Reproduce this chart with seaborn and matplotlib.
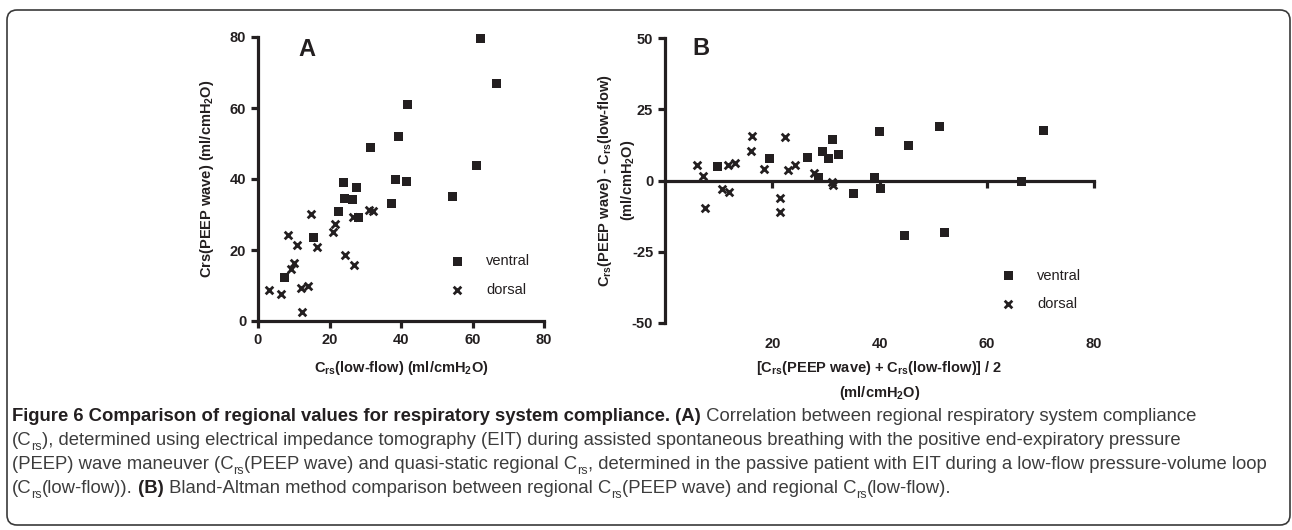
import numpy as np
import pandas as pd
import seaborn as sns
import matplotlib.pyplot as plt
from matplotlib import font_manager as fm
from matplotlib.patches import FancyBboxPatch
from matplotlib.transforms import IdentityTransform

# Painel A: Crs(low-flow) x Crs(PEEP wave)
ventral_low_flow = [62.1, 66.8, 41.8, 39.4, 31.6, 61.2, 38.6, 41.6, 23.9,
                    27.6, 24.3, 26.4, 54.5, 37.4, 22.6, 28.2, 15.6, 7.5]
ventral_peep = [79.5, 67.0, 61.0, 52.0, 48.9, 43.7, 39.9, 39.2, 38.9,
                37.5, 34.6, 34.3, 35.2, 33.2, 30.9, 29.2, 23.4, 12.3]
dorsal_low_flow = [14.9, 31.1, 32.2, 26.6, 21.5, 20.9, 8.5, 10.9, 16.6,
                   24.4, 26.8, 10.0, 9.3, 3.1, 6.3, 12.1, 14.0, 12.2]
dorsal_peep = [30.1, 31.2, 31.0, 29.3, 27.4, 25.2, 24.3, 21.3, 20.8,
               18.5, 15.9, 16.2, 14.6, 8.6, 7.7, 9.2, 9.9, 2.5]

# Painel B: Bland-Altman (media x diferenca)
ventral_mean = [9.8, 19.4, 26.6, 29.3, 30.4, 31.2, 32.4, 28.7, 35.2,
                39.1, 40.0, 40.2, 45.4, 44.6, 51.2, 52.1, 66.4, 70.5]
ventral_diff = [5.0, 7.7, 8.2, 10.2, 7.7, 14.4, 9.2, 0.9, -4.4,
                1.2, 17.2, -2.7, 12.3, -19.3, 18.9, -18.1, -0.3, 17.6]
dorsal_mean = [5.9, 7.1, 7.4, 10.6, 11.9, 11.8, 13.0, 16.1, 16.3,
               18.5, 21.4, 21.4, 22.4, 23.0, 24.3, 27.8, 31.2, 31.4]
dorsal_diff = [5.4, 1.5, -9.7, -2.9, -4.1, 5.3, 6.0, 10.4, 15.6,
               4.0, -6.0, -11.1, 15.1, 3.7, 5.4, 2.5, -0.6, -1.5]

ticks_a = [0, 20, 40, 60, 80]
ticks_bx = [20, 40, 60, 80]
ticks_by = [-50, -25, 0, 25, 50]

df_a = pd.DataFrame({
    'x': ventral_low_flow + dorsal_low_flow,
    'y': ventral_peep + dorsal_peep,
    'regiao': ['ventral'] * len(ventral_low_flow) + ['dorsal'] * len(dorsal_low_flow),
})
df_b = pd.DataFrame({
    'x': ventral_mean + dorsal_mean,
    'y': ventral_diff + dorsal_diff,
    'regiao': ['ventral'] * len(ventral_mean) + ['dorsal'] * len(dorsal_mean),
})

sns.set_style('ticks')
plt.rcParams['font.family'] = ['Liberation Sans', 'DejaVu Sans']
plt.rcParams['mathtext.fontset'] = 'custom'
plt.rcParams['mathtext.rm'] = 'Liberation Sans'
plt.rcParams['mathtext.bf'] = 'Liberation Sans:bold'
plt.rcParams['mathtext.it'] = 'Liberation Sans:italic'
plt.rcParams['axes.unicode_minus'] = False

ink = '#231f20'
W, H = 1292, 530
fig = plt.figure(figsize=(W / 100, H / 100), dpi=100)

ax_a = fig.add_axes([258 / W, 1 - 321 / H, 286 / W, 284 / H])
ax_b = fig.add_axes([665 / W, 1 - 323 / H, 429 / W, 285 / H])


def desenha_pontos(ax, df):
    sub = df[df.regiao == 'ventral']
    sns.scatterplot(x=sub.x, y=sub.y, marker='s', s=42, color=ink,
                    edgecolor='none', label='ventral', ax=ax, clip_on=False,
                    zorder=5)
    sub = df[df.regiao == 'dorsal']
    sns.scatterplot(x=sub.x, y=sub.y, marker='x', s=30, color=ink,
                    linewidth=2, label='dorsal', ax=ax, clip_on=False,
                    zorder=5)


def estilo_eixos(ax):
    sns.despine(ax=ax)
    for lado in ['left', 'bottom']:
        ax.spines[lado].set_linewidth(2.3)
        ax.spines[lado].set_color(ink)
    ax.tick_params(width=2.3, length=5, color=ink, labelcolor=ink,
                   labelsize=10.5)
    for lab in ax.get_xticklabels() + ax.get_yticklabels():
        lab.set_fontweight('bold')


# ---- Painel A
desenha_pontos(ax_a, df_a)
ax_a.set_xlim(0, 80)
ax_a.set_ylim(0, 80)
ax_a.set_xticks(ticks_a)
ax_a.set_yticks(ticks_a)
estilo_eixos(ax_a)
ax_a.set_xlabel(r'C$_{\mathbf{rs}}$(low-flow) (ml/cmH$_{\mathbf{2}}$O)',
                fontsize=10.5, fontweight='bold', color=ink)
ax_a.set_ylabel(r'Crs(PEEP wave) (ml/cmH$_{\mathbf{2}}$O)',
                fontsize=10.5, fontweight='bold', color=ink)
ax_a.xaxis.set_label_coords(0.5, -0.135)
ax_a.yaxis.set_label_coords(-0.147, 0.5)
ax_a.text(0.14, 0.955, 'A', transform=ax_a.transAxes, fontsize=17,
          fontweight='bold', color=ink, va='center', ha='left')
ax_a.legend(frameon=False, loc='center left', bbox_to_anchor=(0.671, 0.16),
            borderaxespad=0, borderpad=0, handlelength=1, handletextpad=1.5,
            labelspacing=1.0, fontsize=10.5, labelcolor=ink)

# ---- Painel B
desenha_pontos(ax_b, df_b)
ax_b.set_xlim(0, 80)
ax_b.set_ylim(-50, 50)
ax_b.set_xticks(ticks_bx)
ax_b.set_yticks(ticks_by)
estilo_eixos(ax_b)
ax_b.spines['bottom'].set_position(('data', 0))
ax_b.tick_params(axis='x', labelbottom=False)
# rotulos do eixo x ficam embaixo, longe da linha do zero
sec = ax_b.secondary_xaxis(0)
sec.set_xticks(ticks_bx)
sec.spines['bottom'].set_visible(False)
sec.tick_params(length=0, pad=10, labelsize=10.5, labelcolor=ink)
for lab in sec.get_xticklabels():
    lab.set_fontweight('bold')
ax_b.set_xlabel('[C$_{\\mathbf{rs}}$(PEEP wave) + C$_{\\mathbf{rs}}$(low-flow)] / 2\n'
                '(ml/cmH$_{\\mathbf{2}}$O)', fontsize=10.5, fontweight='bold',
                color=ink, linespacing=1.6)
ax_b.xaxis.set_label_coords(0.5, -0.125)
# rotulo do eixo y em duas partes (segunda linha mais curta, ao lado)
ax_b.set_ylabel('C$_{\\mathbf{rs}}$(PEEP wave) - C$_{\\mathbf{rs}}$(low-flow)',
                fontsize=10.5, fontweight='bold', color=ink)
ax_b.yaxis.set_label_coords(-0.119, 0.5)
ax_b.text(-0.087, 0.5, '(ml/cmH$_{\\mathbf{2}}$O)', transform=ax_b.transAxes,
          rotation=90, ha='center', va='center', fontsize=10.5,
          fontweight='bold', color=ink)
ax_b.text(0.063, 0.962, 'B', transform=ax_b.transAxes, fontsize=17,
          fontweight='bold', color=ink, va='center', ha='left')
ax_b.legend(frameon=False, loc='center left', bbox_to_anchor=(0.783, 0.116),
            borderaxespad=0, borderpad=0, handlelength=1, handletextpad=1.5,
            labelspacing=1.0, fontsize=10.5, labelcolor=ink)

# ---- Moldura arredondada
moldura = FancyBboxPatch((7, 5), 1283, 515,
                         boxstyle='round,pad=0,rounding_size=10',
                         transform=IdentityTransform(), fill=False,
                         edgecolor='#3a3a3a', linewidth=1.2)
fig.add_artist(moldura)

# ---- Legenda da figura (texto com partes em negrito e subscritos)
try:
    fm.findfont(fm.FontProperties(family='Liberation Sans Narrow'),
                fallback_to_default=False)
    fonte_leg = 'Liberation Sans Narrow'
except ValueError:
    fonte_leg = 'Liberation Sans'

linhas = [
    [('Figure 6 Comparison of regional values for respiratory system compliance.', 'bold', False),
     (' (A)', 'bold', False),
     (' Correlation between regional respiratory system compliance', 'normal', False)],
    [('(C', 'normal', False), ('rs', 'normal', True),
     ('), determined using electrical impedance tomography (EIT) during assisted '
      'spontaneous breathing with the positive end-expiratory pressure', 'normal', False)],
    [('(PEEP) wave maneuver (C', 'normal', False), ('rs', 'normal', True),
     ('(PEEP wave) and quasi-static regional C', 'normal', False), ('rs', 'normal', True),
     (', determined in the passive patient with EIT during a low-flow pressure-volume loop',
      'normal', False)],
    [('(C', 'normal', False), ('rs', 'normal', True), ('(low-flow)).', 'normal', False),
     (' (B)', 'bold', False),
     (' Bland-Altman method comparison between regional C', 'normal', False),
     ('rs', 'normal', True), ('(PEEP wave) and regional C', 'normal', False),
     ('rs', 'normal', True), ('(low-flow).', 'normal', False)],
]

renderer = fig.canvas.get_renderer()


def escreve_linha(segs, y_px, tam, desenhar=True):
    x = 12.0
    objs = []
    for txt, peso, sub in segs:
        fs = tam * 0.68 if sub else tam
        dy = -tam * 0.35 if sub else 0
        cor = ink if peso == 'bold' else '#3d3d3d'
        t = fig.text(x / W, (H - y_px + dy) / H, txt, fontsize=fs,
                     fontweight=peso, family=[fonte_leg, 'DejaVu Sans'],
                     color=cor, va='baseline', ha='left')
        bb = t.get_window_extent(renderer)
        x = bb.x1
        objs.append(t)
    if not desenhar:
        for t in objs:
            t.remove()
    return x - 12.0


# tamanho da fonte ajustado para a linha mais longa caber na moldura
maior = max(escreve_linha(segs, 421, 10, desenhar=False) for segs in linhas)
tam_leg = 10 * 1266 / maior
for i, segs in enumerate(linhas):
    escreve_linha(segs, 421 + 24 * i, tam_leg)

fig.savefig('out.png', dpi=100)
